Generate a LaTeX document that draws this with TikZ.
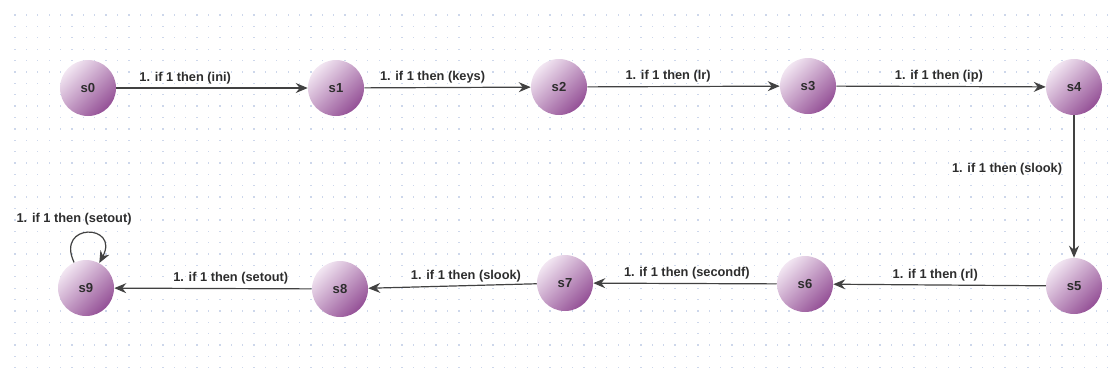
\documentclass[tikz,border=0pt]{standalone}
\usepackage{fontspec}
\setmainfont{Liberation Sans}
\usetikzlibrary{arrows.meta}
\usepackage{xcolor}
\definecolor{stlight}{RGB}{242,230,242}
\definecolor{stdark} {RGB}{148, 80,150}
\definecolor{edgegray}{RGB}{65, 65, 65}
\definecolor{labgray} {RGB}{45, 45, 45}
\definecolor{griddot} {RGB}{205,215,235}

\begin{document}
\begin{tikzpicture}[
    x=0.75pt, y=-0.75pt,
    stnode/.style={circle, minimum size=42pt, inner sep=0pt, top color=stlight, bottom color=stdark, shading angle=45, font=\bfseries\fontsize{9.8}{11}\selectfont, text=labgray},
    lab/.style={font=\bfseries\fontsize{9.6}{11}\selectfont, text=labgray, inner sep=2.5pt},
    arrow/.style={-{Stealth[length=9pt, width=7.5pt, inset=3pt]}, draw=edgegray, line width=0.9pt}
]
    \useasboundingbox (0,0) rectangle (1112,376);
    % dotted background grid
    \foreach \i in {0,...,96} {
        \foreach \j in {0,...,31} {
            \fill[griddot] ({15+11.38*\i-0.6},{15+11.38*\j-0.6}) rectangle +(1.3,1.3);
        }
    }

    % Top row
    \node[stnode] (s0) at (88,88) {s0};
    \node[stnode] (s1) at (336,88) {s1};
    \node[stnode] (s2) at (559,87) {s2};
    \node[stnode] (s3) at (808,86) {s3};
    \node[stnode] (s4) at (1074,87) {s4};

    % Bottom row
    \node[stnode] (s5) at (1074,286) {s5};
    \node[stnode] (s6) at (805,284) {s6};
    \node[stnode] (s7) at (565,283) {s7};
    \node[stnode] (s8) at (340,289) {s8};
    \node[stnode] (s9) at (86,288) {s9};

    % Transitions
    \draw[arrow] (s0) -- node[lab, above, pos=0.36] {1. if 1 then (ini)} (s1);
    \draw[arrow] (s1) -- node[lab, above, pos=0.41] {1. if 1 then (keys)} (s2);
    \draw[arrow] (s2) -- node[lab, above, pos=0.42] {1. if 1 then (lr)} (s3);
    \draw[arrow] (s3) -- node[lab, above, pos=0.49] {1. if 1 then (ip)} (s4);
    \draw[arrow] (s4) -- node[lab, left, pos=0.38, xshift=-6pt] {1. if 1 then (slook)} (s5);
    \draw[arrow] (s5) -- node[lab, above, pos=0.52] {1. if 1 then (rl)} (s6);
    \draw[arrow] (s6) -- node[lab, above, pos=0.49] {1. if 1 then (secondf)} (s7);
    \draw[arrow] (s7) -- node[lab, above, pos=0.42] {1. if 1 then (slook)} (s8);
    \draw[arrow] (s8) -- node[lab, above, pos=0.41] {1. if 1 then (setout)} (s9);
    \draw[arrow] (s9) to[out=115, in=62, looseness=4.5] node[lab, above, yshift=3pt, xshift=-10pt] {1. if 1 then (setout)} (s9);
\end{tikzpicture}
\end{document}
